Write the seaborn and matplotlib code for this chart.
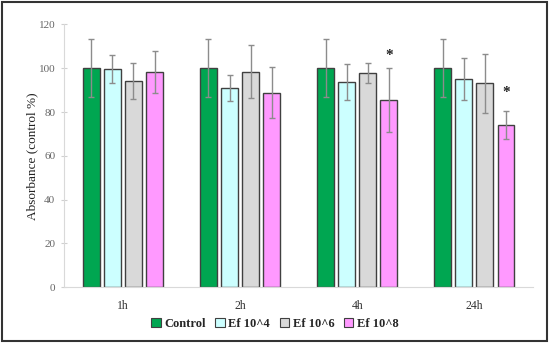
import numpy as np
import pandas as pd
import matplotlib
matplotlib.use("Agg")
import matplotlib.pyplot as plt
from matplotlib.patches import Rectangle, Patch
import seaborn as sns

times = ["1h", "2h", "4h", "24h"]
groups = ["Control", "Ef 10^4", "Ef 10^6", "Ef 10^8"]
means = {
    "Control": [100.0, 100.0, 100.0, 100.0],
    "Ef 10^4": [99.6, 91.0, 93.9, 95.1],
    "Ef 10^6": [94.2, 98.4, 97.8, 93.1],
    "Ef 10^8": [98.4, 88.9, 85.5, 74.0],
}
errs = {
    "Control": [13.3, 13.3, 13.3, 13.3],
    "Ef 10^4": [6.3, 6.1, 8.2, 9.4],
    "Ef 10^6": [8.3, 12.2, 4.7, 13.6],
    "Ef 10^8": [9.5, 11.5, 14.6, 6.3],
}
stars = {("Ef 10^8", "4h"): 106.0, ("Ef 10^8", "24h"): 89.0}
colors = ["#00A651", "#CCFFFF", "#D9D9D9", "#FF99FF"]

rows = []
for g in groups:
    for t, m in zip(times, means[g]):
        rows.append({"time": t, "group": g, "value": m})
df = pd.DataFrame(rows)

sns.set_style("white")
serif = ["Liberation Serif", "DejaVu Serif"]
plt.rcParams["font.family"] = serif

fig = plt.figure(figsize=(5.5, 3.44), dpi=100)
ax = fig.add_axes([0.117, 0.165, 0.852, 0.764])

sns.barplot(data=df, x="time", y="value", hue="group", order=times,
            hue_order=groups, palette=colors, saturation=1, width=0.72, gap=0.2,
            edgecolor="#404040", linewidth=1.0, errorbar=None,
            legend=False, ax=ax)

for g, cont in zip(groups, ax.containers):
    xs = [p.get_x() + p.get_width() / 2 for p in cont.patches]
    ax.errorbar(xs, means[g], yerr=errs[g], fmt="none", ecolor="#8C8C8C",
                elinewidth=1.0, capsize=2.5, capthick=1.0, zorder=5)
    for x, t in zip(xs, times):
        if (g, t) in stars:
            ax.text(x, stars[(g, t)], "*", ha="center", va="center",
                    fontsize=11, fontweight="bold", color="#222222")

ax.set_ylim(0, 120)
ax.set_xlim(-0.5, 3.5)
ax.set_yticks([0, 20, 40, 60, 80, 100, 120])
ax.set_xlabel("")
ax.set_ylabel("Absorbance (control %)", fontsize=9.5, color="#222222", labelpad=0)
ax.tick_params(axis="y", direction="inout", length=5, width=0.8,
               color="#D0D0D0", labelsize=8, labelcolor="#666666", pad=4, left=True)
ax.tick_params(axis="x", length=0, labelsize=8.5, labelcolor="#333333", pad=9)
for s in ["top", "right"]:
    ax.spines[s].set_visible(False)
for s in ["left", "bottom"]:
    ax.spines[s].set_color("#D9D9D9")
    ax.spines[s].set_linewidth(0.8)

handles = [Patch(facecolor=c, edgecolor="#404040", linewidth=0.8, label=g)
           for c, g in zip(colors, groups)]
fig.legend(handles=handles, loc="center", bbox_to_anchor=(0.5, 0.058), ncol=4,
           frameon=False, handlelength=0.75, handleheight=0.75,
           handletextpad=0.3, columnspacing=0.75,
           prop={"family": serif, "weight": "bold", "size": 9})

fig.patches.append(Rectangle((0.004, 0.008), 0.991, 0.985, transform=fig.transFigure,
                             fill=False, edgecolor="#333333", linewidth=1.5))

fig.savefig("out.png", dpi=100)
